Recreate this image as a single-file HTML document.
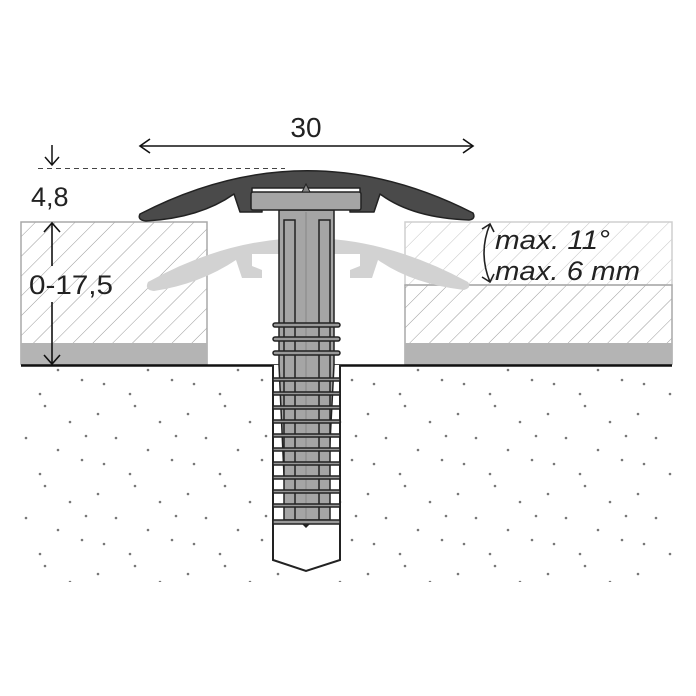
<!DOCTYPE html>
<html><head><meta charset="utf-8"><style>
html,body{margin:0;padding:0;background:#fff;}
svg{display:block;}
text{font-family:"Liberation Sans","DejaVu Sans",sans-serif;fill:#222;}
</style></head><body>
<svg width="696" height="696" viewBox="0 0 696 696" xmlns="http://www.w3.org/2000/svg">
<defs>
<pattern id="hatch" width="14" height="14" patternUnits="userSpaceOnUse" patternTransform="rotate(45)">
<line x1="0" y1="0" x2="0" y2="14" stroke="#9a9a9a" stroke-width="1"/>
</pattern>
<pattern id="hatch2" width="14" height="14" patternUnits="userSpaceOnUse" patternTransform="rotate(45)">
<line x1="0" y1="0" x2="0" y2="14" stroke="#c4c4c4" stroke-width="1"/>
</pattern>
<pattern id="dots" width="90" height="80" patternUnits="userSpaceOnUse">
<circle cx="8" cy="14" r="1.3" fill="#777"/><circle cx="45" cy="6" r="1.3" fill="#777"/>
<circle cx="70" cy="22" r="1.3" fill="#777"/><circle cx="26" cy="38" r="1.3" fill="#777"/>
<circle cx="58" cy="50" r="1.3" fill="#777"/><circle cx="14" cy="64" r="1.3" fill="#777"/>
<circle cx="82" cy="60" r="1.3" fill="#777"/><circle cx="40" cy="74" r="1.3" fill="#777"/>
<circle cx="86" cy="36" r="1.3" fill="#777"/>
</pattern>
</defs>

<rect x="21" y="367" width="651" height="215" fill="url(#dots)"/>

<rect x="21" y="222" width="186" height="142" fill="url(#hatch)" stroke="#a8a8a8" stroke-width="1.5"/>
<rect x="21" y="343" width="186" height="21" fill="#b4b4b4"/>
<rect x="405" y="222" width="267" height="63" fill="url(#hatch2)" stroke="#cfcfcf" stroke-width="1.5"/>
<rect x="405" y="285" width="267" height="79" fill="url(#hatch)" stroke="#a8a8a8" stroke-width="1.5"/>
<rect x="405" y="343" width="267" height="21" fill="#b4b4b4"/>

<!-- ghost profile -->
<g transform="translate(0,66)">
<path d="M148,216 Q306,128 468,216 Q472,222 464,224 Q412,218 378,194 L372,212 L350,212 L350,204 L360,200 L360,188 L252,188 L252,200 L262,204 L262,212 L242,212 L236,194 Q200,218 154,225 Q144,224 148,216 Z" fill="#d2d2d2"/>
</g>

<line x1="21" y1="365.5" x2="672" y2="365.5" stroke="#111" stroke-width="2.5"/>

<path d="M273,365 L273,560 L306,571 L340,560 L340,365" fill="#fff" stroke="#222" stroke-width="2"/>
<path d="M279,210 L279,365 L286,520 L326,520 L334,365 L334,210 Z" fill="#a5a5a5" stroke="#222" stroke-width="1.5"/>
<path d="M298,520 L306,528 L314,520 Z" fill="#222"/>
<rect x="284" y="220" width="11" height="300" fill="#a5a5a5" stroke="#222" stroke-width="1.5"/>
<rect x="319" y="220" width="11" height="300" fill="#a5a5a5" stroke="#222" stroke-width="1.5"/>
<line x1="306" y1="212" x2="306" y2="520" stroke="#888" stroke-width="1"/>
<g fill="#999" stroke="#222" stroke-width="1.5">
<rect x="273" y="323" width="67" height="4" rx="2"/>
<rect x="273" y="337" width="67" height="4" rx="2"/>
<rect x="273" y="351" width="67" height="4" rx="2"/>
<rect x="273" y="378" width="67" height="3"/>
<rect x="273" y="392" width="67" height="3"/>
<rect x="273" y="406" width="67" height="3"/>
<rect x="273" y="420" width="67" height="3"/>
<rect x="273" y="434" width="67" height="3"/>
<rect x="273" y="448" width="67" height="3"/>
<rect x="273" y="462" width="67" height="3"/>
<rect x="273" y="476" width="67" height="3"/>
<rect x="273" y="490" width="67" height="3"/>
<rect x="273" y="504" width="67" height="3"/>
<rect x="273" y="520" width="67" height="4"/>
</g>

<!-- dark profile -->
<path d="M140,214 Q306,128 473,213 Q476,219 469,220 Q412,218 380,194 L374,212 L350,212 L350,204 L360,200 L360,188 L252,188 L252,200 L262,204 L262,212 L240,212 L234,194 Q200,218 146,221 Q137,220 140,214 Z" fill="#4a4a4a" stroke="#222" stroke-width="1.5" stroke-linejoin="round"/>
<rect x="251" y="192" width="110" height="18" rx="2" fill="#a5a5a5" stroke="#222" stroke-width="1.5"/>
<path d="M302,192 L306,184 L310,192 Z" fill="#888" stroke="#222"/>

<line x1="38" y1="168.5" x2="285" y2="168.5" stroke="#444" stroke-width="1" stroke-dasharray="5,4"/>

<line x1="140" y1="146" x2="473" y2="146" stroke="#111" stroke-width="1.6"/>
<path d="M150,139 L140,146 L150,153 M463,139 L473,146 L463,153" fill="none" stroke="#111" stroke-width="1.6"/>
<text x="306" y="137" font-size="28" text-anchor="middle">30</text>

<line x1="52" y1="145" x2="52" y2="165" stroke="#111" stroke-width="1.5"/>
<path d="M45,157 L52,165 L59,157" fill="none" stroke="#111" stroke-width="1.5"/>
<text x="31" y="206" font-size="27">4,8</text>

<line x1="52" y1="223" x2="52" y2="266" stroke="#111" stroke-width="1.6"/>
<line x1="52" y1="302" x2="52" y2="364" stroke="#111" stroke-width="1.6"/>
<path d="M44,232 L52,223 L60,232 M44,355 L52,364 L60,355" fill="none" stroke="#111" stroke-width="1.6"/>
<text x="29" y="294" font-size="27" textLength="84" lengthAdjust="spacingAndGlyphs">0-17,5</text>

<path d="M490,224 Q478,253 490,282" fill="none" stroke="#222" stroke-width="1.6"/>
<path d="M482,229 L490,224 L494,232 M482,277 L490,282 L494,274" fill="none" stroke="#222" stroke-width="1.6"/>
<text x="495" y="249" font-size="27" font-style="italic" textLength="115" lengthAdjust="spacingAndGlyphs">max. 11°</text>
<text x="495" y="280" font-size="27" font-style="italic" textLength="145" lengthAdjust="spacingAndGlyphs">max. 6 mm</text>
</svg>
</body></html>
